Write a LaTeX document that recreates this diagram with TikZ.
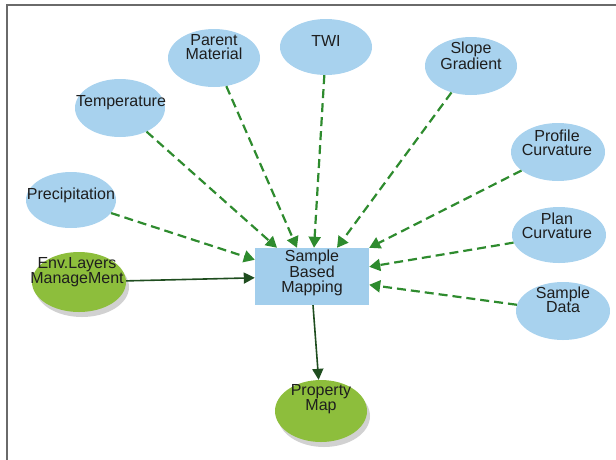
\documentclass[tikz,border=0pt]{standalone}
\usepackage{fontspec}
\setmainfont{Liberation Sans}
\usetikzlibrary{arrows.meta,shapes.geometric,shadows}
\definecolor{ellblue}{HTML}{A8D2EE}
\definecolor{boxblue}{HTML}{A2CEEC}
\definecolor{ellgreen}{HTML}{8DBE3C}
\definecolor{dashgreen}{HTML}{2E8B2E}
\definecolor{solidgreen}{HTML}{1F4D1F}
\definecolor{txt}{HTML}{1E1E1E}
\definecolor{framegray}{HTML}{6A6A6A}
\tikzset{
  blueell/.style={ellipse, fill=ellblue, draw=none, minimum width=92pt, minimum height=58pt, inner sep=0pt},
  greenell/.style={ellipse, fill=ellgreen, draw=none, minimum width=94pt, minimum height=60pt, inner sep=0pt,
    drop shadow={shadow xshift=3pt, shadow yshift=-5pt, opacity=0.3, fill=black!60}},
  lbl/.style={text=txt, align=center, inner sep=0pt, font=\fontsize{16}{14.5}\selectfont},
  mapbox/.style={rectangle, fill=boxblue, draw=none, minimum width=114pt, minimum height=57pt, inner sep=0pt},
  dasharrow/.style={draw=dashgreen, line width=2.2pt, dash pattern=on 9pt off 5pt,
    -{Triangle[length=11pt,width=12pt,fill=dashgreen]}},
  solidarrow/.style={draw=solidgreen, line width=1.6pt, -{Triangle[length=11pt,width=11pt,fill=solidgreen]}}
}
\begin{document}
\begin{tikzpicture}[x=1pt,y=-1pt]
\useasboundingbox (0,0) rectangle (616,459);
% frame
\draw[framegray, line width=2pt] (7,470) -- (7,5) -- (620,5);

% nodes
\node[mapbox] (box) at (312,276.5) {};
\node[lbl] (boxt) at (312,273) {Sample\\Based\\Mapping};

\node[blueell] (pm) at (214,58) {};
\node[lbl] (pmt) at (214,47) {Parent\\Material};

\node[blueell, minimum height=56pt] (twi) at (326,47) {};
\node[lbl] (twit) at (326,41) {TWI};

\node[blueell] (slope) at (471,66) {};
\node[lbl] (slopet) at (471,56) {Slope\\Gradient};

\node[blueell, minimum width=90pt] (temp) at (120,108) {};
\node[lbl] (tempt) at (121,103) {Temperature};

\node[blueell, minimum width=94pt] (prof) at (558,152) {};
\node[lbl] (proft) at (557,143) {Profile\\Curvature};

\node[blueell, minimum width=90pt, minimum height=56pt] (precip) at (71,200) {};
\node[lbl] (precipt) at (71,195) {Precipitation};

\node[blueell, minimum width=94pt, minimum height=56pt] (plan) at (559,235) {};
\node[lbl] (plant) at (557,226) {Plan\\Curvature};

\node[blueell, minimum width=94pt] (sdata) at (563,311) {};
\node[lbl] (sdatat) at (563,300) {Sample\\Data};

\node[greenell] (env) at (79,282) {};
\node[lbl] (envt) at (77,272) {Env.Layers\\ManageMent};

\node[greenell, minimum width=92pt, minimum height=62pt] (prop) at (321,411) {};
\node[lbl] (propt) at (321,399) {Property\\Map};

% connectors
\draw[dasharrow] (precip) -- ([yshift=-12pt]box.north west);
\draw[dasharrow] (temp) -- ([xshift=-35pt]box.north);
\draw[dasharrow] (pm) -- ([xshift=-15pt]box.north);
\draw[dasharrow] (twi) -- ([xshift=2pt]box.north);
\draw[dasharrow] (slope) -- ([xshift=25pt]box.north);
\draw[dasharrow] (prof) -- (box.north east);
\draw[dasharrow] (plan) -- ([yshift=-19pt]box.north east);
\draw[dasharrow] (sdata) -- ([yshift=-37pt]box.north east);
\draw[solidarrow] (env) -- ([yshift=-30pt]box.north west);
\draw[solidarrow] ([xshift=1pt]box.south) -- (prop);
\end{tikzpicture}
\end{document}
